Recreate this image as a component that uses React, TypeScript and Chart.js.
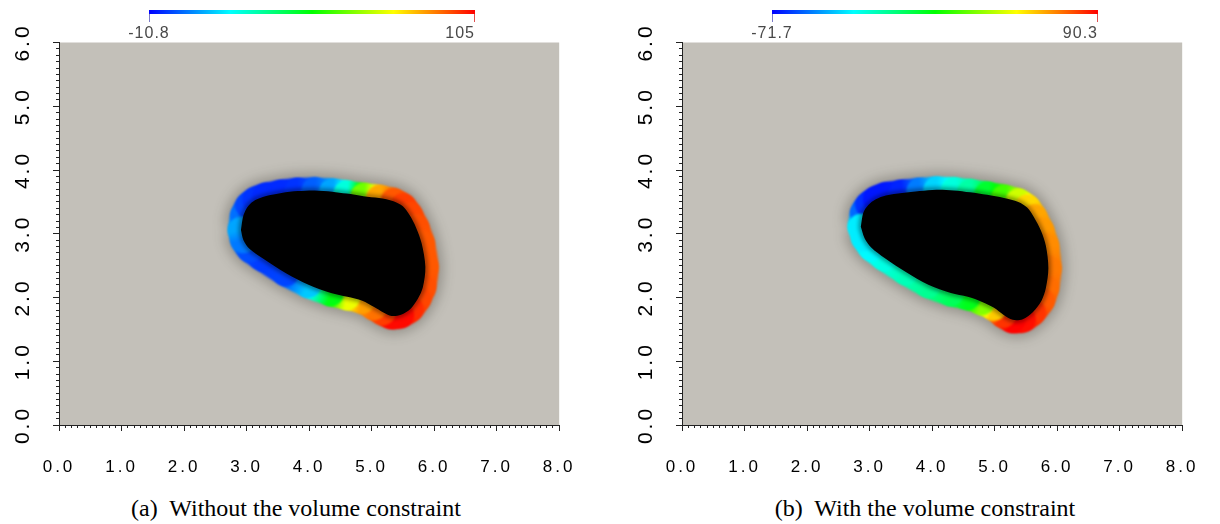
import React, { useEffect, useRef } from 'react';
import { Chart, registerables } from 'chart.js';

Chart.register(...registerables);

// ---------- data ----------
const xTickLabels = ['0.0', '1.0', '2.0', '3.0', '4.0', '5.0', '6.0', '7.0', '8.0'];
const yTickLabels = ['0.0', '1.0', '2.0', '3.0', '4.0', '5.0', '6.0'];

const leftRange = [-10.8, 105];
const rightRange = [-71.7, 90.3];
const leftRangeLabels = ['-10.8', '105'];
const rightRangeLabels = ['-71.7', '90.3'];

const leftCaption = '(a)  Without the volume constraint';
const rightCaption = '(b)  With the volume constraint';

// interface (black region boundary) of panel (a)
const leftBoundaryX = [2.91, 2.95, 3.03, 3.14, 3.3, 3.56, 3.82, 4.09, 4.37, 4.6, 4.87, 5.12, 5.35, 5.5, 5.61, 5.71, 5.8, 5.86, 5.82, 5.74, 5.62, 5.47, 5.32, 5.18, 5.04, 4.85, 4.61, 4.35, 3.99, 3.63, 3.25, 3.05, 2.95];
const leftBoundaryY = [3.06, 3.29, 3.44, 3.53, 3.59, 3.64, 3.67, 3.68, 3.66, 3.63, 3.59, 3.56, 3.51, 3.43, 3.29, 3.1, 2.85, 2.48, 2.16, 1.98, 1.82, 1.73, 1.71, 1.77, 1.85, 1.95, 2.01, 2.07, 2.2, 2.38, 2.62, 2.76, 2.9];
const leftValues = [8, 2, -3, -5, -6, -6, -5, 0, 8, 22, 60, 86, 95, 98, 97, 96, 95, 95, 96, 97, 100, 104, 104, 98, 92, 87, 74, 45, 12, -3, -4, -2, 3];

// interface of panel (b)
const rightBoundaryX = [2.86, 2.9, 2.98, 3.1, 3.26, 3.52, 3.8, 4.07, 4.35, 4.61, 4.88, 5.15, 5.38, 5.52, 5.63, 5.74, 5.82, 5.86, 5.82, 5.75, 5.61, 5.45, 5.29, 5.14, 4.99, 4.8, 4.57, 4.3, 3.94, 3.58, 3.24, 3.03, 2.92];
const rightBoundaryY = [3.11, 3.33, 3.45, 3.54, 3.6, 3.64, 3.67, 3.69, 3.68, 3.65, 3.61, 3.56, 3.5, 3.41, 3.26, 3.05, 2.81, 2.46, 2.15, 1.95, 1.77, 1.66, 1.65, 1.73, 1.84, 1.93, 2.01, 2.07, 2.2, 2.4, 2.62, 2.78, 2.93];
const rightValues = [-34, -55, -64, -68, -68, -66, -52, -38, -26, -17, 2, 20, 42, 56, 64, 66, 68, 71, 73, 76, 82, 88, 90, 82, 58, 30, 5, -5, -14, -20, -27, -32, -34];

// ---------- styling ----------
const BG = 'rgb(195,192,185)';
const CANVAS_W = 597;
const CANVAS_H = 490;
const PANEL_OFFSET = 623;
const TICK_FONT = 'Liberation Sans, Arial, sans-serif';

function jet(v: number, lo: number, hi: number) {
  let t = (v - lo) / (hi - lo);
  t = Math.max(0, Math.min(1, t));
  return `hsl(${240 * (1 - t)},100%,50%)`;
}

const effectsPlugin = {
  id: 'effects',
  beforeDraw(chart: any) {
    const { ctx, chartArea: a } = chart;
    ctx.save();
    ctx.fillStyle = BG;
    ctx.fillRect(a.left, a.top, a.right - a.left, a.bottom - a.top);
    ctx.restore();
    ctx.letterSpacing = '3px';
  },
  beforeDatasetDraw(chart: any, args: any) {
    const ctx = chart.ctx;
    ctx.save();
    const filters = ['blur(2.5px)', 'blur(1.1px)', 'blur(6px)'];
    ctx.filter = filters[args.index] || 'none';
  },
  afterDatasetDraw(chart: any) {
    chart.ctx.restore();
  },
};

function makeChart(canvas: HTMLCanvasElement, xs: number[], ys: number[], vs: number[], range: number[]) {
  const [lo, hi] = range;
  const pts = xs.map((x, i) => ({ x, y: ys[i] }));
  pts.push({ x: xs[0], y: ys[0] });
  const vals = [...vs, vs[0]];

  const ringColor = (c: any) => {
    const { p0, p1, p0DataIndex: i0, p1DataIndex: i1, chart } = c;
    const g = chart.ctx.createLinearGradient(p0.x, p0.y, p1.x, p1.y);
    for (let k = 0; k <= 4; k++) {
      const f = k / 4;
      g.addColorStop(f, jet(vals[i0] + f * (vals[i1] - vals[i0]), lo, hi));
    }
    return g;
  };

  const minorAxis = (axis: 'x' | 'y', max: number) => ({
    type: 'linear',
    position: axis === 'x' ? 'bottom' : 'left',
    min: 0,
    max,
    weight: 0,
    afterFit: (s: any) => {
      if (axis === 'x') s.height = 0;
      else s.width = 0;
    },
    grid: { drawOnChartArea: false, drawTicks: true, tickLength: 3, tickColor: '#222', tickWidth: 1 },
    border: { display: false },
    ticks: { stepSize: 0.1, display: false, autoSkip: false, maxTicksLimit: 1000 },
  });

  return new Chart(canvas, {
    type: 'scatter',
    data: {
      datasets: [
        {
          // black interior
          data: pts,
          showLine: true,
          fill: 'shape',
          backgroundColor: '#000',
          borderColor: '#000',
          borderWidth: 2,
          pointRadius: 0,
          tension: 0.3,
        },
        {
          // coloured interface band
          data: pts,
          showLine: true,
          fill: false,
          borderColor: '#00f',
          borderWidth: 26,
          borderCapStyle: 'round',
          borderJoinStyle: 'round',
          pointRadius: 0,
          tension: 0.3,
          segment: {
            borderColor: ringColor,
            borderDashOffset: (c: any) => c.p0DataIndex + 1,
          },
        },
        {
          // soft halo
          data: pts,
          showLine: true,
          fill: false,
          borderColor: 'rgba(40,35,30,0.28)',
          borderWidth: 36,
          borderJoinStyle: 'round',
          pointRadius: 0,
          tension: 0.3,
        },
      ],
    } as any,
    options: {
      responsive: false,
      animation: false,
      events: [],
      layout: { padding: { left: 0, top: 42.5, right: 27, bottom: 5 } },
      plugins: { legend: { display: false }, tooltip: { enabled: false } },
      scales: {
        x: {
          type: 'linear',
          position: 'bottom',
          min: 0,
          max: 8,
          weight: 1,
          afterFit: (s: any) => {
            s.height = 60;
          },
          grid: { drawOnChartArea: false, drawTicks: true, tickLength: 6, tickColor: '#222', tickWidth: 1 },
          border: { display: true, color: '#222', width: 1 },
          ticks: {
            stepSize: 1,
            autoSkip: false,
            minRotation: 0,
            maxRotation: 0,
            padding: 26,
            color: '#000',
            font: { family: TICK_FONT, size: 17 },
            callback: (v: any) => xTickLabels[Math.round(Number(v))],
          },
        },
        xMinor: minorAxis('x', 8),
        y: {
          type: 'linear',
          position: 'left',
          min: 0,
          max: 6,
          weight: 1,
          afterFit: (s: any) => {
            s.width = 59;
          },
          grid: { drawOnChartArea: false, drawTicks: true, tickLength: 6, tickColor: '#222', tickWidth: 1 },
          border: { display: true, color: '#222', width: 1 },
          ticks: {
            stepSize: 1,
            autoSkip: false,
            minRotation: 90,
            maxRotation: 90,
            crossAlign: 'center',
            padding: 15,
            color: '#000',
            font: { family: TICK_FONT, size: 21 },
            callback: (v: any) => yTickLabels[Math.round(Number(v))],
          },
        },
        yMinor: minorAxis('y', 6),
      },
    } as any,
    plugins: [effectsPlugin],
  });
}

function ColorBar({ left, labels }: { left: number; labels: string[] }) {
  const width = 326;
  const labelStyle: React.CSSProperties = {
    position: 'absolute',
    top: 25,
    width: 100,
    font: `16px ${TICK_FONT}`,
    lineHeight: '16px',
    letterSpacing: '1px',
    color: '#484848',
    whiteSpace: 'nowrap',
  };
  return (
    <>
      <div
        style={{
          position: 'absolute',
          left,
          top: 10,
          width,
          height: 4,
          background: 'linear-gradient(to right, #0000ff 0%, #00ffff 25%, #00ff00 50%, #ffff00 75%, #ff0000 100%)',
        }}
      />
      <div style={{ position: 'absolute', left, top: 14, width: 1, height: 8, background: '#7b7bc8' }} />
      <div style={{ position: 'absolute', left: left + width - 1, top: 14, width: 1, height: 8, background: '#e05050' }} />
      <div style={{ ...labelStyle, left: left - 50, textAlign: 'center' }}>{labels[0]}</div>
      <div style={{ ...labelStyle, left: left + width - 100, textAlign: 'right' }}>{labels[1]}</div>
    </>
  );
}

export default function App() {
  const leftRef = useRef<HTMLCanvasElement>(null);
  const rightRef = useRef<HTMLCanvasElement>(null);

  useEffect(() => {
    const c1 = makeChart(leftRef.current!, leftBoundaryX, leftBoundaryY, leftValues, leftRange);
    const c2 = makeChart(rightRef.current!, rightBoundaryX, rightBoundaryY, rightValues, rightRange);
    return () => {
      c1.destroy();
      c2.destroy();
    };
  }, []);

  const captionStyle: React.CSSProperties = {
    position: 'absolute',
    top: 496,
    width: 600,
    textAlign: 'center',
    font: '24px "Liberation Serif", "Times New Roman", serif',
    lineHeight: '24px',
    whiteSpace: 'pre',
    color: '#000',
  };

  return (
    <div style={{ position: 'absolute', left: 0, top: 0, width: 1220, height: 524, background: '#fff', overflow: 'hidden' }}>
      <canvas ref={leftRef} width={CANVAS_W} height={CANVAS_H} style={{ position: 'absolute', left: 0, top: 0, display: 'block' }} />
      <canvas
        ref={rightRef}
        width={CANVAS_W}
        height={CANVAS_H}
        style={{ position: 'absolute', left: PANEL_OFFSET, top: 0, display: 'block' }}
      />
      <ColorBar left={149} labels={leftRangeLabels} />
      <ColorBar left={149 + PANEL_OFFSET} labels={rightRangeLabels} />
      <div style={{ ...captionStyle, left: -4 }}>{leftCaption}</div>
      <div style={{ ...captionStyle, left: 625 }}>{rightCaption}</div>
    </div>
  );
}
